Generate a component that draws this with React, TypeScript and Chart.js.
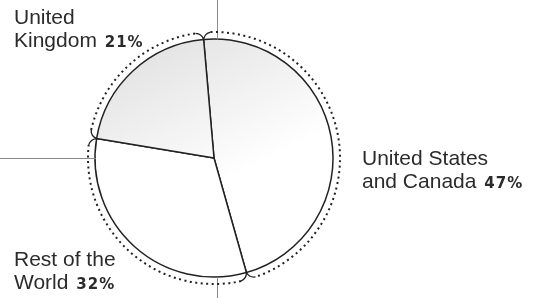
import React, { useEffect, useRef } from "react";
import { Chart, registerables } from "chart.js";

Chart.register(...registerables);

const categories = ["United States and Canada", "Rest of the World", "United Kingdom"];
const shares = [47, 32, 21];
const labelLines = [["United States", "and Canada"], ["Rest of the", "World"], ["United", "Kingdom"]];
const pctLabels = ["47%", "32%", "21%"];
const shaded = [true, false, true];

const TEXT = "#2b2b2b";
const LINE = "#222";

const overlayPlugin = {
  id: "overlay",
  afterDatasetsDraw(chart: any) {
    const ctx = chart.ctx as CanvasRenderingContext2D;
    const meta = chart.getDatasetMeta(0);
    const arcs = meta.data as any[];
    if (!arcs.length) return;
    const cx = arcs[0].x;
    const cy = arcs[0].y;
    const R = arcs[0].outerRadius;
    const Rd = R + 7;
    const pol = (r: number, a: number) => [cx + r * Math.cos(a), cy + r * Math.sin(a)];

    ctx.save();
    // leader lines
    ctx.strokeStyle = "#8a8a8a";
    ctx.lineWidth = 1;
    ctx.beginPath();
    ctx.moveTo(cx + 3.5, 0);
    ctx.lineTo(cx + 3.5, cy - R + 0.5);
    ctx.moveTo(0, cy + 0.5);
    ctx.lineTo(cx - R + 1, cy + 0.5);
    ctx.moveTo(cx + 3.5, cy + R);
    ctx.lineTo(cx + 3.5, chart.height);
    ctx.stroke();

    // dotted outer rings
    const gap = 0.06;
    ctx.strokeStyle = LINE;
    ctx.lineWidth = 2;
    ctx.setLineDash([2, 3.5]);
    arcs.forEach((arc) => {
      ctx.beginPath();
      ctx.arc(cx, cy, Rd, arc.startAngle + gap, arc.endAngle - gap);
      ctx.stroke();
    });
    ctx.setLineDash([]);
    // brace marks at boundaries
    ctx.lineWidth = 1.3;
    arcs.forEach((arc) => {
      const a = arc.startAngle;
      const p0 = pol(Rd, a - gap);
      const p1 = pol(Rd, a + gap);
      const pm = pol(R, a);
      const c0 = pol(Rd - 1, a - gap * 0.2);
      const c1 = pol(Rd - 1, a + gap * 0.2);
      ctx.beginPath();
      ctx.moveTo(p0[0], p0[1]);
      ctx.quadraticCurveTo(c0[0], c0[1], pm[0], pm[1]);
      ctx.quadraticCurveTo(c1[0], c1[1], p1[0], p1[1]);
      ctx.stroke();
    });

    // labels
    const positions = [
      [362, 165],
      [14, 266],
      [14, 24],
    ];
    const lineH = 23;
    ctx.textBaseline = "alphabetic";
    ctx.textAlign = "left";
    labelLines.forEach((lines, i) => {
      const [x, y] = positions[i];
      ctx.fillStyle = TEXT;
      ctx.font = "21px 'Liberation Sans', Arial, sans-serif";
      (ctx as any).letterSpacing = "0px";
      ctx.fillText(lines[0], x, y);
      ctx.fillText(lines[1], x, y + lineH);
      const w = ctx.measureText(lines[1] + " ").width;
      ctx.font = "bold 15px 'DejaVu Sans', sans-serif";
      (ctx as any).letterSpacing = "1px";
      ctx.fillText(pctLabels[i], x + w + 2, y + lineH);
    });
    (ctx as any).letterSpacing = "0px";
    ctx.restore();
  },
};

export default function App() {
  const ref = useRef<HTMLCanvasElement | null>(null);
  useEffect(() => {
    if (!ref.current) return;
    const chart = new Chart(ref.current, {
      type: "pie",
      data: {
        labels: categories,
        datasets: [
          {
            data: shares,
            backgroundColor: (c: any) => {
              const ch = c.chart;
              const area = ch.chartArea;
              if (!shaded[c.dataIndex]) return "#ffffff";
              if (!area) return "#eeeeee";
              const g = ch.ctx.createLinearGradient(
                area.left + area.width * 0.25,
                area.top,
                area.left + area.width * 0.55,
                area.top + area.height * 0.6
              );
              g.addColorStop(0, "#e2e2e2");
              g.addColorStop(1, "#ffffff");
              return g;
            },
            borderColor: LINE,
            borderWidth: 1.5,
          },
        ],
      },
      options: {
        responsive: false,
        animation: false,
        rotation: -5,
        radius: 119,
        layout: { padding: { left: 96, right: 212, top: 40, bottom: 22 } },
        plugins: { legend: { display: false }, tooltip: { enabled: false } },
      } as any,
      plugins: [overlayPlugin],
    });
    return () => chart.destroy();
  }, []);
  return (
    <div style={{ position: "fixed", left: 0, top: 0, width: 544, height: 298, background: "#fff" }}>
      <canvas ref={ref} width={544} height={298} style={{ width: 544, height: 298, display: "block" }} />
    </div>
  );
}
